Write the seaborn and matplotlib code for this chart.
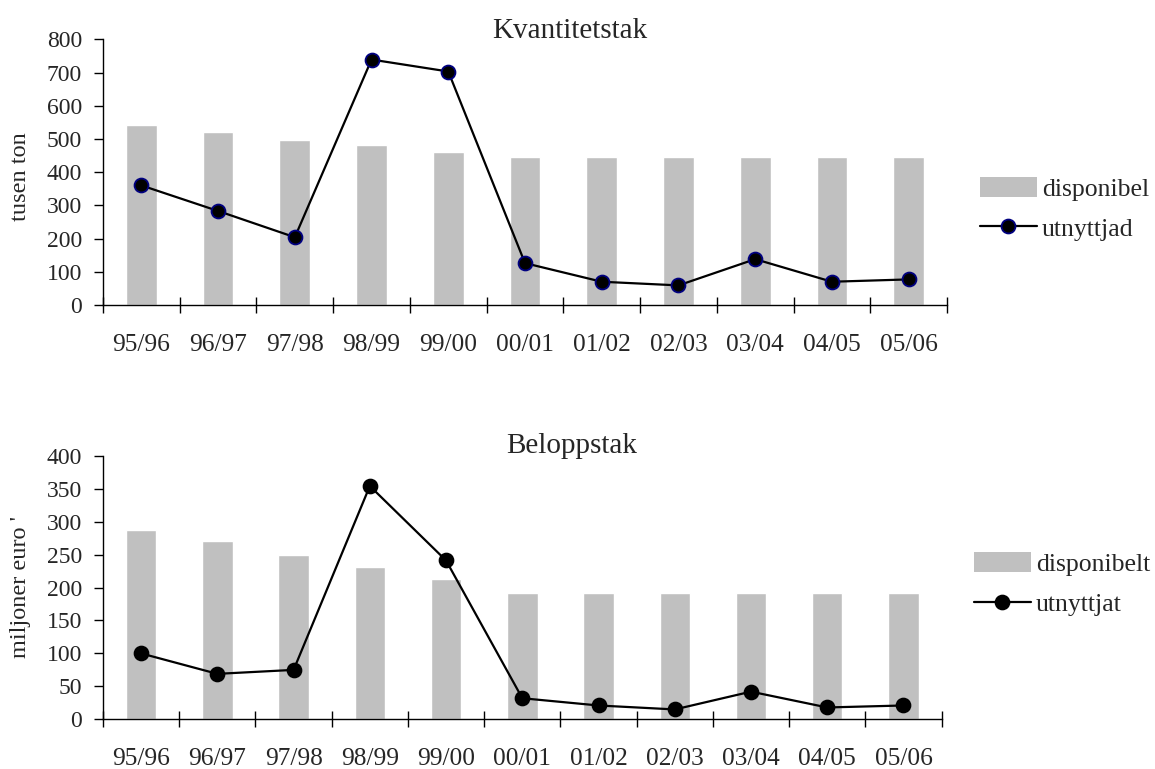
import numpy as np
import matplotlib
matplotlib.use('Agg')
import matplotlib.pyplot as plt
from matplotlib.patches import Patch
from matplotlib.lines import Line2D
import seaborn as sns

# data
seasons = ['95/96', '96/97', '97/98', '98/99', '99/00', '00/01',
           '01/02', '02/03', '03/04', '04/05', '05/06']
kvant_disponibel = [541, 520, 497, 481, 460, 445, 445, 445, 445, 445, 445]
kvant_utnyttjad = [360, 283, 204, 739, 703, 126, 70, 59, 138, 70, 77]
belopp_disponibelt = [288, 271, 250, 231, 213, 192, 192, 192, 192, 192, 192]
belopp_utnyttjat = [100, 69, 75, 354, 241, 32, 21, 15, 42, 18, 21]

sns.set_style('ticks')
plt.rcParams['font.family'] = ['Liberation Serif', 'DejaVu Serif']
FS = 17
BAR = '#C0C0C0'

fig = plt.figure(figsize=(11.55, 7.69), dpi=100)
ax1 = fig.add_axes([0.0892, 0.6034, 0.7307, 0.3455])
ax2 = fig.add_axes([0.0892, 0.0646, 0.7260, 0.3428])


def draw(ax, disp, used, ymax, ystep, edge, labels, ylabel, label_y, leg_xy):
    sns.barplot(x=seasons, y=disp, color=BAR, saturation=1, width=0.4, ax=ax)
    sns.pointplot(x=seasons, y=used, color='black', markers='o', markersize=10,
                  linewidth=1.6, markeredgecolor=edge, markeredgewidth=1.3, ax=ax)
    n = len(seasons)
    ax.set_xlim(-0.5, n - 0.5)
    ax.set_ylim(0, ymax)
    ax.set_yticks(np.arange(0, ymax + 1, ystep))
    ax.set_xticks(np.arange(-0.5, n, 1))
    ax.set_xticklabels([])
    ax.set_xticks(np.arange(n), minor=True)
    ax.set_xticklabels(seasons, minor=True)
    ax.tick_params(axis='x', which='major', direction='inout', length=11.5, width=1, color='black')
    ax.tick_params(axis='x', which='minor', length=0, pad=21, labelsize=18.3)
    ax.tick_params(axis='y', direction='out', length=6.5, width=1, pad=8.5, labelsize=FS, color='black')
    ax.set_xlabel('')
    ax.set_ylabel(ylabel, fontsize=17.5, va='center')
    ax.yaxis.set_label_coords(-0.098, label_y)
    for s in ['top', 'right']:
        ax.spines[s].set_visible(False)
    for s in ['left', 'bottom']:
        ax.spines[s].set_color('black')
        ax.spines[s].set_linewidth(1)
    handles = [Patch(facecolor=BAR, edgecolor='none'),
               Line2D([], [], color='black', lw=1.6, marker='o', markersize=10,
                      markerfacecolor='black', markeredgecolor=edge, markeredgewidth=1.3)]
    fig.legend(handles, labels, loc='center left', bbox_to_anchor=leg_xy,
               frameon=False, fontsize=18.5, borderpad=0, borderaxespad=0,
               handlelength=2.2, handleheight=0.85, handletextpad=0.2, labelspacing=0.62)


draw(ax1, kvant_disponibel, kvant_utnyttjad, 800, 100, '#000080',
     ['disponibel', 'utnyttjad'], 'tusen ton', 0.484, (980 / 1155, 0.7286))
draw(ax2, belopp_disponibelt, belopp_utnyttjat, 400, 50, 'black',
     ['disponibelt', 'utnyttjat'], "miljoner euro '", 0.502, (974 / 1155, 0.2406))

fig.text(0.493, 0.9506, 'Kvantitetstak', ha='center', va='baseline', fontsize=21)
fig.text(0.495, 0.411, 'Beloppstak', ha='center', va='baseline', fontsize=21)

fig.savefig('out.png', dpi=100)
